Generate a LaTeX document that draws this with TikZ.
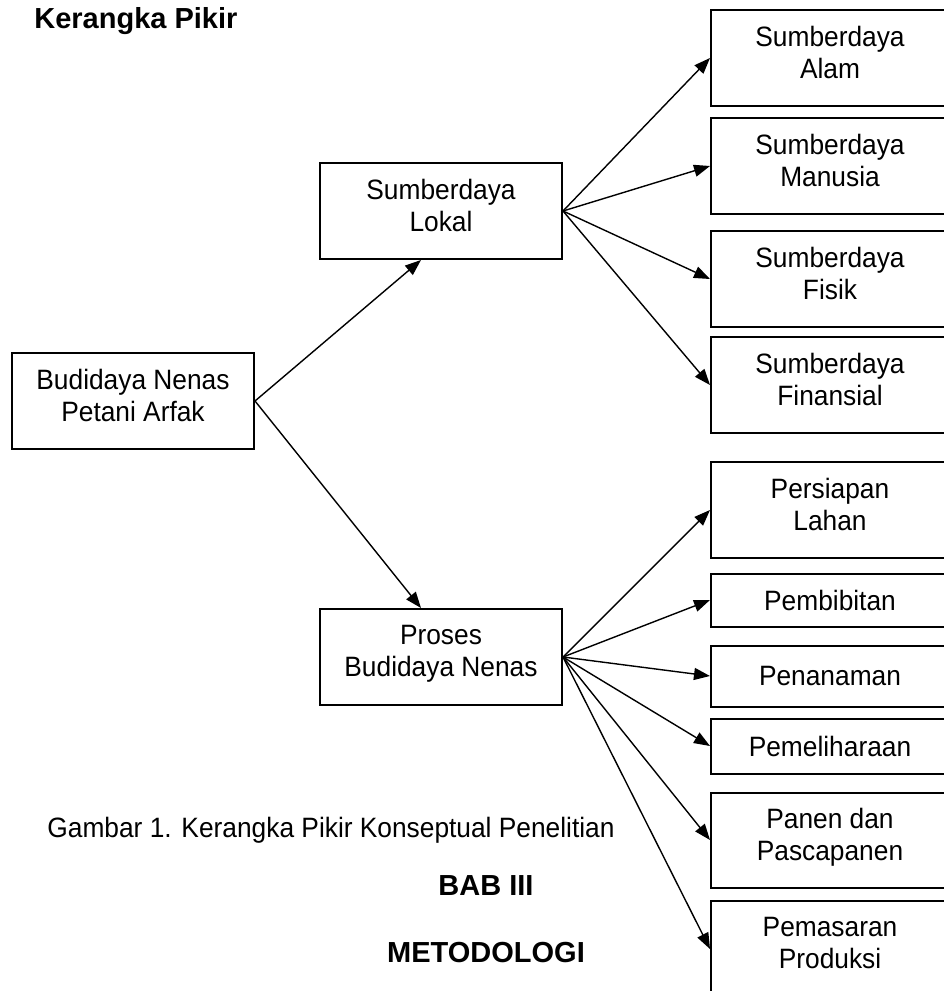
\documentclass[tikz,border=0pt]{standalone}
\usepackage{fontspec}
\setmainfont[FakeStretch=0.94]{Liberation Sans}
\newfontfamily\headfont{Liberation Sans}
\usetikzlibrary{arrows.meta}

\begin{document}
\begin{tikzpicture}[x=0.5pt,y=-0.5pt,
    every node/.append style = {font=\fontsize{14}{16}\selectfont},
    boldtxt/.style = {font=\headfont\fontsize{14.5}{16}\selectfont\bfseries},
    box/.style = {draw, line width=1pt, align=center, minimum width=121pt, minimum height=48pt, inner sep=2pt},
    twoline/.style = {text depth=6pt},
    arr/.style = {-{Triangle[length=8pt,width=6pt]}, line width=0.7pt}
  ]
  \useasboundingbox (0,0) rectangle (943,991);

  \node[boldtxt, anchor=base west, inner sep=0pt] (title) at (34,28) {Kerangka Pikir};

  % main boxes
  \node[box, twoline] (budidaya) at (133,401) {Budidaya Nenas\\Petani Arfak};
  \node[box, twoline] (lokal) at (441,211) {Sumberdaya\\Lokal};
  \node[box, twoline] (proses) at (441,657) {Proses\\Budidaya Nenas};

  % boxes on the right
  \foreach \name/\y/\h/\sty/\txt in {alam/58/48/twoline/{Sumberdaya\\Alam},
      manusia/166/48/twoline/{Sumberdaya\\Manusia}, fisik/279/48/twoline/{Sumberdaya\\Fisik},
      finansial/385/48/twoline/{Sumberdaya\\Finansial}, persiapan/510/48/twoline/{Persiapan\\Lahan},
      pembibitan/600/26.5/box/{Pembibitan}, penanaman/676/30.5/box/{Penanaman},
      pemeliharaan/746/27.5/box/{Pemeliharaan}, panen/840/47.5/twoline/{Panen dan\\Pascapanen},
      pemasaran/949/48/twoline/{Pemasaran\\Produksi}}{
      \node[box, \sty, minimum width=119pt, minimum height=\h pt] (\name) at (830,\y) {\txt};
    }

  % connectors
  \draw[arr] (budidaya.east) -- ([xshift=-10pt]lokal.south);
  \draw[arr] (budidaya.east) -- ([xshift=-10pt]proses.north);
  \foreach \t in {alam,manusia,fisik,finansial}{
      \draw[arr] (lokal.east) -- (\t.west);
    }
  \foreach \t in {persiapan,pembibitan,penanaman,pemeliharaan,panen,pemasaran}{
      \draw[arr] (proses.east) -- (\t.west);
    }

  \node (caption) at (331,830) {Gambar 1. Kerangka Pikir Konseptual Penelitian};
  \node[boldtxt] (bab) at (486,886) {BAB III};
  \node[boldtxt] (metodologi) at (486,953) {METODOLOGI};
\end{tikzpicture}
\end{document}
